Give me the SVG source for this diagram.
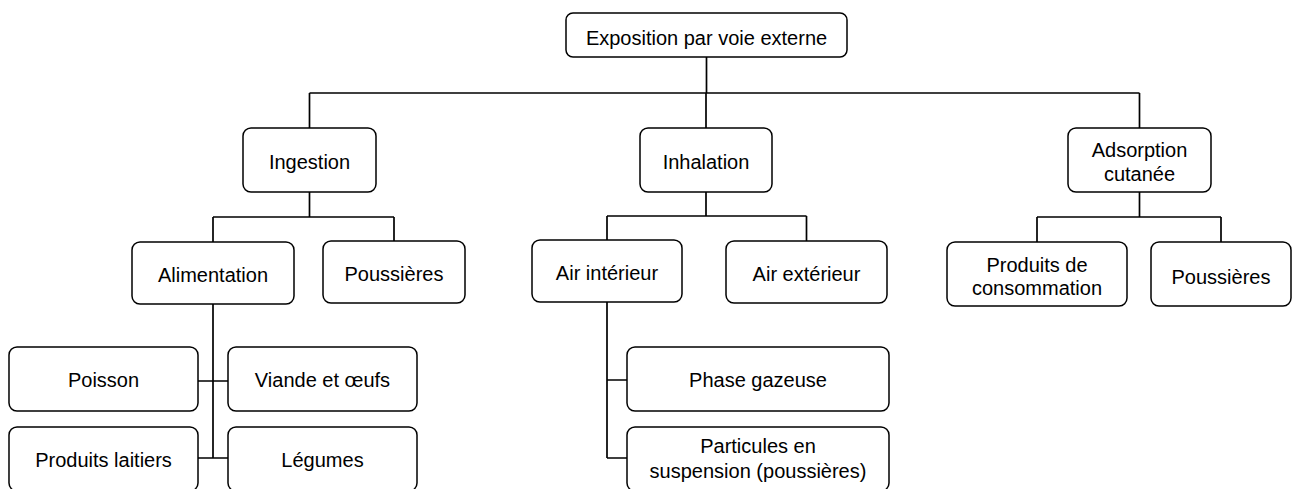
<svg xmlns="http://www.w3.org/2000/svg" width="1294" height="489" viewBox="0 0 1294 489">
<style>
.n rect{fill:#fff;stroke:#000;stroke-width:1.5}
.n text{font-family:"Liberation Sans",Arial,sans-serif;font-size:20px;fill:#000;text-anchor:middle}
#edges path{fill:none;stroke:#000;stroke-width:1.7}
</style>
<rect width="1294" height="489" fill="#fff"/>
<g id="edges">
<path d="M706.5 57V93M309.5 93H1139.5M309.5 93V128M706 93V128M1139.5 93V128"/>
<path d="M309.5 192V217M213 217H394M213 217V242M394 217V241"/>
<path d="M213 304V458M198 381H228M198 458H228"/>
<path d="M706 192V216M607 216H806.5M607 216V240M806.5 216V241"/>
<path d="M607 302V458M607 380H627M607 458H627"/>
<path d="M1139.5 192V217M1037 217H1221M1037 217V242M1221 217V242"/>
</g>
<g id="root" class="n"><rect x="566" y="13" width="281" height="44" rx="7"/><text x="706.5" y="45">Exposition par voie externe</text></g>
<g id="ingestion" class="n"><rect x="243" y="128" width="133" height="64" rx="8"/><text x="309.5" y="169">Ingestion</text></g>
<g id="alimentation" class="n"><rect x="132" y="242" width="162" height="62" rx="8"/><text x="213" y="282">Alimentation</text></g>
<g id="poussieres1" class="n"><rect x="323" y="241" width="142" height="62" rx="8"/><text x="394" y="281">Poussières</text></g>
<g id="poisson" class="n"><rect x="9" y="347" width="189" height="64" rx="8"/><text x="103.5" y="387">Poisson</text></g>
<g id="viande" class="n"><rect x="228" y="347" width="189" height="64" rx="8"/><text x="322.5" y="387">Viande et œufs</text></g>
<g id="laitiers" class="n"><rect x="9" y="427" width="189" height="64" rx="8"/><text x="103.5" y="467">Produits laitiers</text></g>
<g id="legumes" class="n"><rect x="228" y="427" width="189" height="64" rx="8"/><text x="322.5" y="467">Légumes</text></g>
<g id="inhalation" class="n"><rect x="640" y="128" width="132" height="64" rx="8"/><text x="706" y="169">Inhalation</text></g>
<g id="airint" class="n"><rect x="532" y="240" width="150" height="62" rx="8"/><text x="607" y="280">Air intérieur</text></g>
<g id="airext" class="n"><rect x="726" y="241" width="161" height="62" rx="8"/><text x="806.5" y="281">Air extérieur</text></g>
<g id="phase" class="n"><rect x="627" y="347" width="262" height="64" rx="8"/><text x="758" y="387">Phase gazeuse</text></g>
<g id="particules" class="n"><rect x="627" y="427" width="262" height="64" rx="8"/><text x="758" y="453">Particules en</text><text x="758" y="478">suspension (poussières)</text></g>
<g id="adsorption" class="n"><rect x="1068" y="128" width="143" height="64" rx="8"/><text x="1139.5" y="157">Adsorption</text><text x="1139.5" y="181">cutanée</text></g>
<g id="produits" class="n"><rect x="947" y="242" width="180" height="64" rx="8"/><text x="1037" y="272">Produits de</text><text x="1037" y="295">consommation</text></g>
<g id="poussieres2" class="n"><rect x="1151" y="242" width="140" height="64" rx="8"/><text x="1221" y="284">Poussières</text></g>
</svg>
